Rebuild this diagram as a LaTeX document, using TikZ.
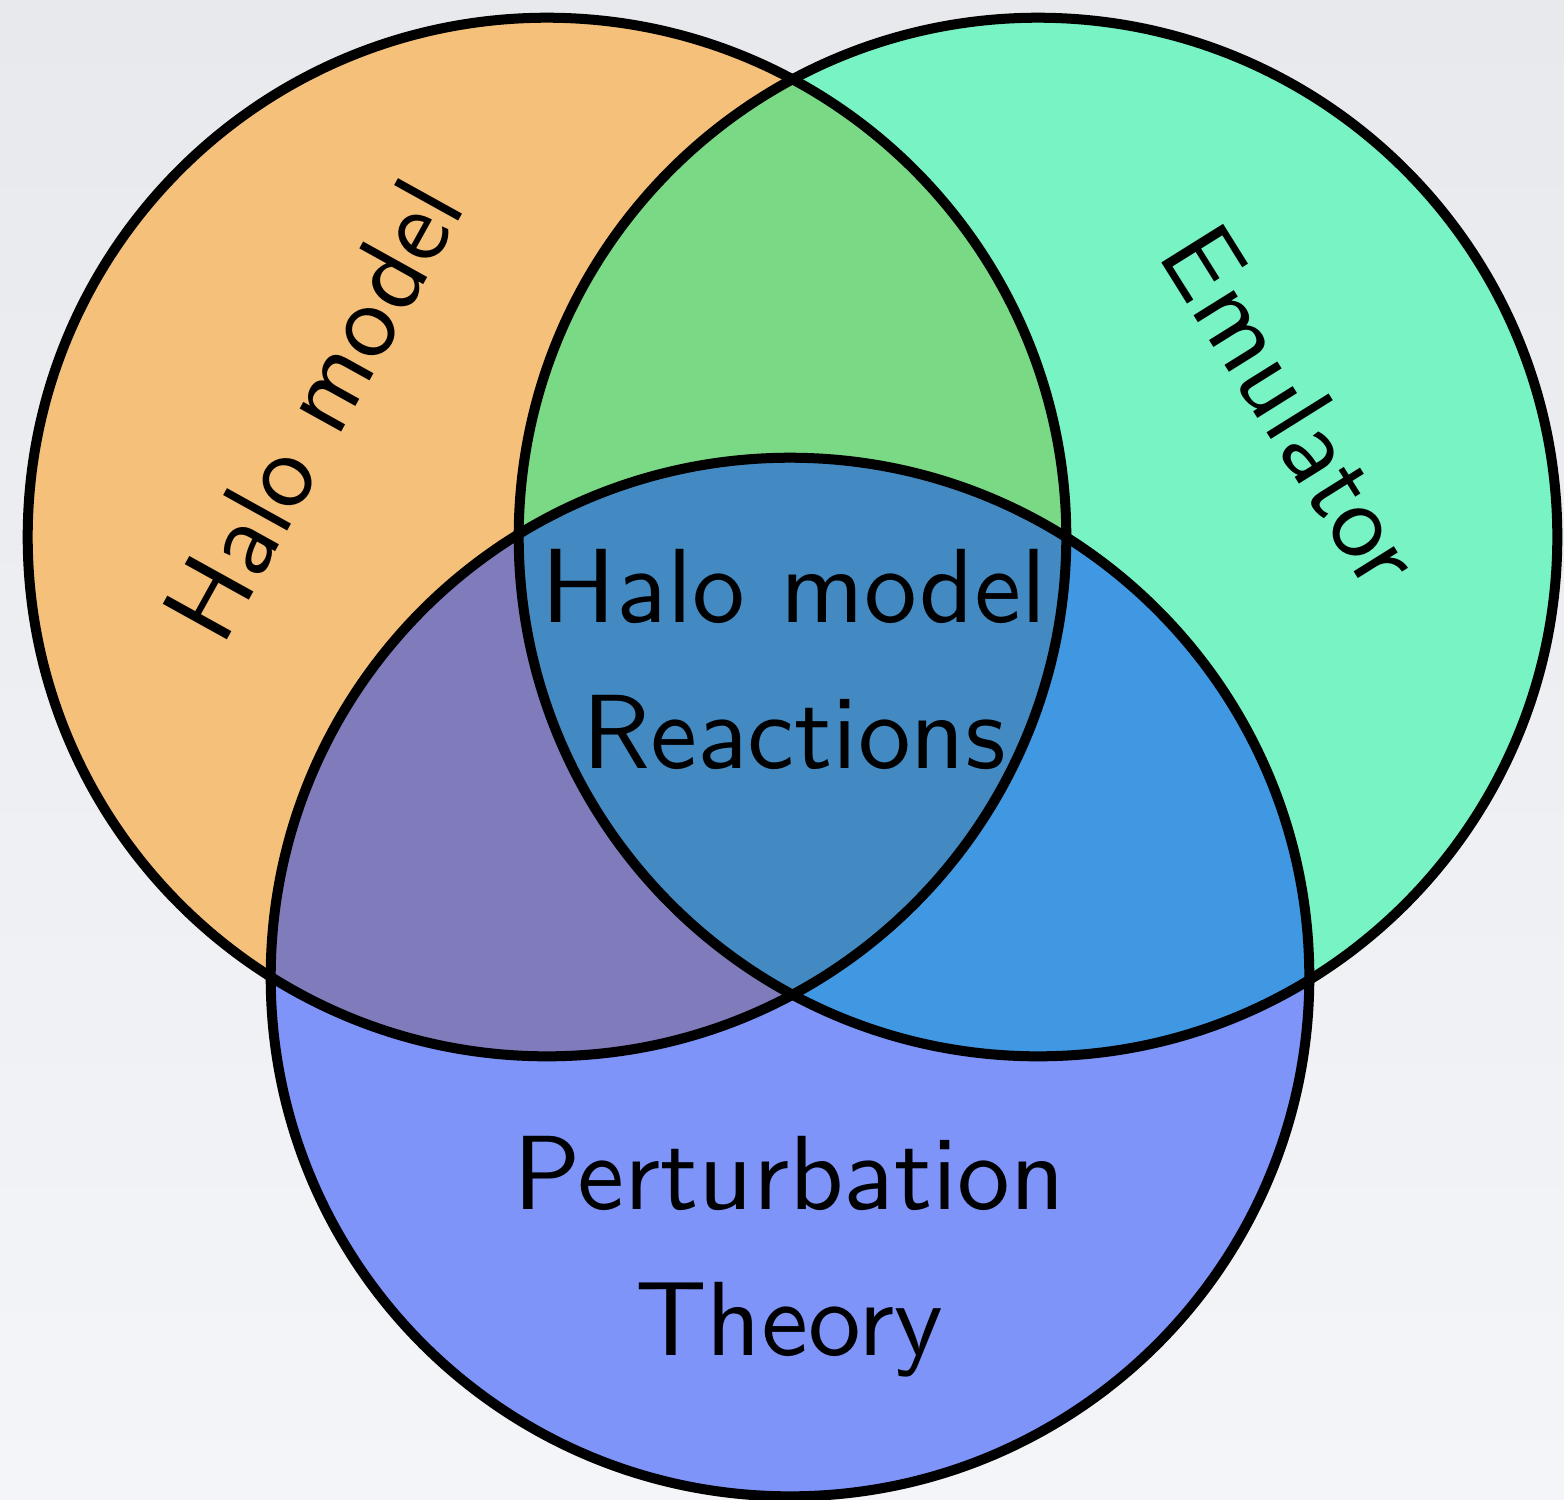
\documentclass[tikz,border=0pt]{standalone}
\usepackage{fontspec}
\usepackage{tikz}
\newfontfamily\tagfont{lmsans10-regular.otf}
\definecolor{bgtop}{RGB}{231,233,237}
\definecolor{bgbottom}{RGB}{244,245,248}
\definecolor{halofill}{RGB}{245,193,122}
\definecolor{emufill}{RGB}{120,243,196}
\definecolor{ptfill}{RGB}{126,148,249}
\definecolor{haloemu}{RGB}{122,217,133}
\definecolor{halopt}{RGB}{128,124,188}
\definecolor{emupt}{RGB}{64,151,226}
\definecolor{allthree}{RGB}{67,138,194}

\begin{document}
\begin{tikzpicture}[x=0.01cm,y=-0.01cm]
\tikzstyle{ring}=[draw=black,line width=0.1cm]
\tikzstyle{tag}=[font=\tagfont\fontsize{30}{41.5}\selectfont,align=center,inner sep=0pt]
\shade[top color=bgtop,bottom color=bgbottom] (0,0) rectangle (1564,1499);
\useasboundingbox (0,0) rectangle (1564,1499);
% circles
\coordinate (halo) at (547,537);
\coordinate (emu) at (1038,537);
\coordinate (pt) at (790,977);
\fill[halofill] (halo) circle (5.19cm);
\fill[emufill] (emu) circle (5.19cm);
\fill[ptfill] (pt) circle (5.19cm);
% overlaps
\begin{scope}
\clip (halo) circle (5.19cm);
\fill[haloemu] (emu) circle (5.19cm);
\fill[halopt] (pt) circle (5.19cm);
\end{scope}
\begin{scope}
\clip (emu) circle (5.19cm);
\fill[emupt] (pt) circle (5.19cm);
\clip (halo) circle (5.19cm);
\fill[allthree] (pt) circle (5.19cm);
\end{scope}
\draw[ring] (halo) circle (5.19cm);
\draw[ring] (emu) circle (5.19cm);
\draw[ring] (pt) circle (5.19cm);
% labels
\node[tag,rotate=61] (halolabel) at (313,410) {Halo model};
\node[tag,rotate=-58] (emulabel) at (1293,406) {Emulator};
\node[tag] (centrelabel) at (794,659) {Halo model\\Reactions};
\node[tag] (ptlabel) at (789,1257) {Perturbation\\Theory};
\end{tikzpicture}
\end{document}
